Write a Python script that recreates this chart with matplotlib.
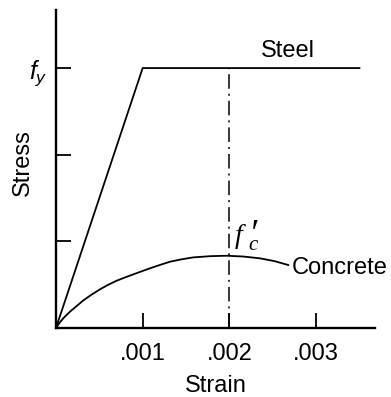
import matplotlib
matplotlib.use("Agg")
import matplotlib.pyplot as plt

plt.rcParams['font.family'] = ['Liberation Sans', 'DejaVu Sans']
plt.rcParams['mathtext.fontset'] = 'custom'
plt.rcParams['mathtext.it'] = 'Liberation Sans:italic'
plt.rcParams['mathtext.rm'] = 'Liberation Sans'

# steel: linear up to yield, then flat
steel_strain = [0.0, 0.001, 0.0035]
steel_stress = [0.0, 3.0, 3.0]

# concrete curve
conc_strain = [0.0, 0.00004, 0.000084, 0.000161, 0.000239, 0.000315, 0.0004,
               0.000507, 0.0006, 0.0007, 0.0008, 0.000892, 0.001084, 0.0012,
               0.001315, 0.00145, 0.001584, 0.00178, 0.001969,
               0.00216, 0.002353, 0.00252, 0.002679]
conc_stress = [0.0, 0.058, 0.112, 0.188, 0.254, 0.318, 0.378,
               0.446, 0.498, 0.546, 0.585, 0.619, 0.689, 0.728,
               0.765, 0.793, 0.815, 0.829, 0.834,
               0.825, 0.804, 0.772, 0.727]

fc_strain = 0.002
x_ticks = [0.001, 0.002, 0.003]
x_labels = ['.001', '.002', '.003']
y_ticks = [1, 2, 3]
y_labels = ['', '', '$f_y$']

fig = plt.figure(figsize=(3.91, 3.97), dpi=100)
ax = fig.add_axes([0.1432, 0.1738, 0.8159, 0.801])

ax.plot(steel_strain, steel_stress, color='black', lw=1.3, solid_joinstyle='miter')
ax.plot(conc_strain, conc_stress, color='black', lw=1.3)
ax.plot([fc_strain, fc_strain], [0, steel_stress[1]], color='black', lw=1.1,
        linestyle=(0, (9.5, 3.3, 1.3, 3.3)))

ax.text(0.002676, 3.2, 'Steel', ha='center', va='center', fontsize=17)
ax.text(0.00272, 0.69, 'Concrete', ha='left', va='center', fontsize=17)
# f'c label, built from pieces
serif_it = dict(family='Liberation Serif', style='italic', color='black')
ax.text(0.00206, 1.06, "f", ha='left', va='center', fontsize=20, **serif_it)
ax.text(0.00223, 1.07, "\u2032", ha='left', va='center', fontsize=27, **serif_it)
ax.text(0.002215, 0.95, "c", ha='left', va='center', fontsize=15, **serif_it)

ax.set_xlim(0, 0.00368)
ax.set_ylim(0, 3.67)
ax.set_xticks(x_ticks)
ax.set_xticklabels(x_labels)
ax.set_yticks(y_ticks)
ax.set_yticklabels(y_labels)
ax.tick_params(direction='in', length=11, width=1.3, labelsize=17)
ax.tick_params(axis='x', pad=11)
ax.tick_params(axis='y', pad=6, labelsize=18)

for side in ['top', 'right']:
    ax.spines[side].set_visible(False)
for side in ['left', 'bottom']:
    ax.spines[side].set_linewidth(1.7)

ax.set_xlabel('Strain', fontsize=17)
ax.set_ylabel('Stress', fontsize=17)
ax.xaxis.set_label_coords(0.5, -0.148)
ax.yaxis.set_label_coords(-0.068, 0.52)

fig.savefig('out.png', dpi=100)
